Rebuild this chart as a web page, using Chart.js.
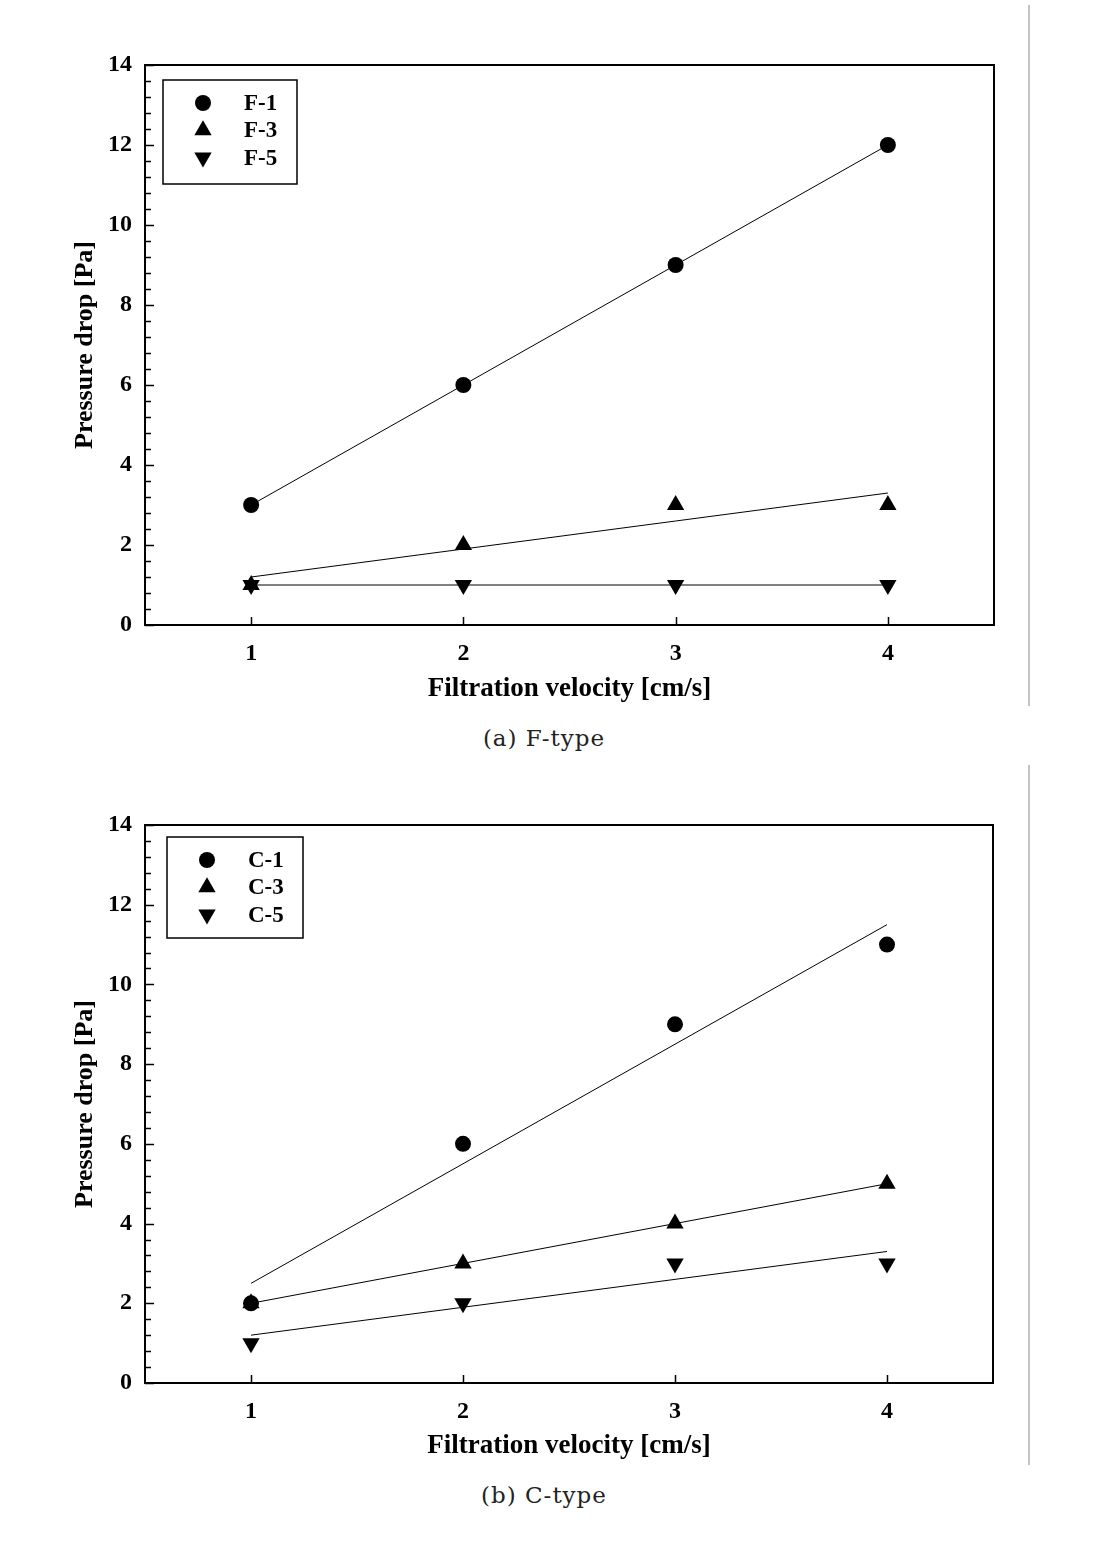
<!DOCTYPE html>
<html>
<head>
<meta charset="utf-8">
<script src="https://cdn.jsdelivr.net/npm/chart.js@4/dist/chart.umd.min.js"></script>
<style>
  body{margin:0;background:#fff;}
  #page{position:relative;width:1102px;height:1548px;overflow:hidden;background:#fff;}
  canvas{position:absolute;left:0;}
  .caption{position:absolute;left:0;width:1088px;text-align:center;font-family:"DejaVu Serif",serif;font-size:23px;letter-spacing:1px;color:#222;line-height:28px;}
  .rule{position:absolute;left:1028px;width:2px;background:#c4c4c4;}
</style>
</head>
<body>
<div id="page">
  <canvas id="chartF" width="1102" height="710" style="top:0px"></canvas>
  <div class="caption" style="top:724px">(a) F-type</div>
  <div class="rule" style="top:5px;height:701px"></div>

  <canvas id="chartC" width="1102" height="710" style="top:763px"></canvas>
  <div class="caption" style="top:1481px">(b) C-type</div>
  <div class="rule" style="top:765px;height:700px"></div>
</div>

<script>
// ---- data ----
const velocity = [1, 2, 3, 4];
const xTicks = [1, 2, 3, 4];
const yTicks = [0, 2, 4, 6, 8, 10, 12, 14];

// (a) F-type
const f1 = [3, 6, 9, 12];
const f3 = [1, 2, 3, 3];
const f5 = [1, 1, 1, 1];
const f1Fit = [3, 6, 9, 12];
const f3Fit = [1.2, 1.9, 2.6, 3.3];
const f5Fit = [1, 1, 1, 1];

// (b) C-type
const c1 = [2, 6, 9, 11];
const c3 = [2, 3, 4, 5];
const c5 = [1, 2, 3, 3];
const c1Fit = [2.5, 5.5, 8.5, 11.5];
const c3Fit = [2, 3, 4, 5];
const c5Fit = [1.2, 1.9, 2.6, 3.3];

const serif = "'Liberation Serif', 'Times New Roman', serif";

function pts(values){
    return velocity.map((v,i)=>({x:v, y:values[i]}));
}

function markerSet(label, values, style, rot, radius){
    return {
        label:label,
        data:pts(values),
        showLine:false,
        pointStyle:style,
        rotation:rot,
        pointRadius:radius,
        pointHoverRadius:radius,
        backgroundColor:"#000",
        borderColor:"#000",
        borderWidth:0
    };
}

function fitSet(values){
    return {
        label:"",
        data:pts(values),
        showLine:true,
        pointRadius:0,
        borderColor:"#000",
        borderWidth:1,
        fill:false
    };
}

// draws a marker shape like Chart.js would
function drawMarker(ctx, style, rot, r, x, y){
    ctx.save();
    ctx.fillStyle="#000";
    ctx.beginPath();
    if(style==="circle"){
        ctx.arc(x, y, r, 0, Math.PI*2);
    }else{
        let a = rot*Math.PI/180;
        ctx.moveTo(x+Math.sin(a)*r, y-Math.cos(a)*r);
        a += Math.PI*2/3;
        ctx.lineTo(x+Math.sin(a)*r, y-Math.cos(a)*r);
        a += Math.PI*2/3;
        ctx.lineTo(x+Math.sin(a)*r, y-Math.cos(a)*r);
    }
    ctx.closePath();
    ctx.fill();
    ctx.restore();
}

//------------------------
// frame, ticks and legend
//------------------------
const framePlugin = {
    id:"frame",
    afterDraw(chart, args, opts){
        const ctx = chart.ctx;
        const a = chart.chartArea;
        const xs = chart.scales.x;
        const ys = chart.scales.y;

        ctx.save();
        ctx.strokeStyle="#000";

        // inward ticks
        ctx.lineWidth=1.5;
        ctx.beginPath();
        for(let v=0; v<=14.001; v+=0.4){
            const py = Math.round(ys.getPixelForValue(v))+0.5;
            const major = Math.abs(v/2-Math.round(v/2))<0.01;
            ctx.moveTo(a.left, py);
            ctx.lineTo(a.left+(major?9:6), py);
        }
        xTicks.forEach(v=>{
            const px = Math.round(xs.getPixelForValue(v))+0.5;
            ctx.moveTo(px, a.bottom);
            ctx.lineTo(px, a.bottom-8);
        });
        ctx.stroke();

        // plot border
        ctx.lineWidth=2;
        ctx.strokeRect(a.left, a.top, a.right-a.left, a.bottom-a.top);

        // legend box
        const lx = a.left+opts.left, ly = a.top+opts.top;
        ctx.lineWidth=1.5;
        ctx.strokeRect(lx, ly, opts.width, opts.height);

        ctx.font="bold 23px "+serif;
        ctx.textBaseline="middle";
        ctx.fillStyle="#000";
        opts.items.forEach((it,i)=>{
            const y = ly+opts.firstRow+i*opts.rowGap;
            drawMarker(ctx, it.style, it.rot, it.r, lx+40, y);
            ctx.fillText(it.label, lx+81, y+1);
        });

        ctx.restore();
    }
};

function makeChart(id, sets, fits, labels, layout){
    const datasets = [
        fitSet(fits[0]), fitSet(fits[1]), fitSet(fits[2]),
        markerSet(labels[0], sets[0], "circle", 0, 8),
        markerSet(labels[1], sets[1], "triangle", 0, 10),
        markerSet(labels[2], sets[2], "triangle", 180, 10)
    ];

    return new Chart(document.getElementById(id),{
        type:"scatter",
        data:{datasets:datasets},
        options:{
            responsive:false,
            animation:false,
            devicePixelRatio:1,
            layout:{
                padding:{left:70, top:layout.top, right:layout.right, bottom:0}
            },
            plugins:{
                legend:{display:false},
                tooltip:{enabled:false},
                frame:{
                    left:layout.legLeft, top:layout.legTop,
                    width:layout.legW, height:layout.legH,
                    firstRow:23, rowGap:27.3,
                    items:[
                        {label:labels[0], style:"circle", rot:0, r:8},
                        {label:labels[1], style:"triangle", rot:0, r:10},
                        {label:labels[2], style:"triangle", rot:180, r:10}
                    ]
                }
            },
            scales:{
                x:{
                    type:"linear",
                    min:0.5,
                    max:4.5,
                    afterBuildTicks:(s)=>{ s.ticks = xTicks.map(v=>({value:v})); },
                    afterFit:(s)=>{ s.height = layout.xHeight; },
                    grid:{display:false},
                    border:{display:false},
                    ticks:{
                        padding:6,
                        color:"#000",
                        font:{family:serif, size:24, weight:"bold"}
                    },
                    title:{
                        display:true,
                        text:"Filtration velocity [cm/s]",
                        color:"#000",
                        padding:{top:0, bottom:layout.xTitlePad},
                        font:{family:serif, size:27, weight:"bold"}
                    }
                },
                y:{
                    type:"linear",
                    min:0,
                    max:14,
                    afterBuildTicks:(s)=>{ s.ticks = yTicks.map(v=>({value:v})); },
                    afterFit:(s)=>{ s.width = 75; },
                    grid:{display:false},
                    border:{display:false},
                    ticks:{
                        padding:5,
                        color:"#000",
                        font:{family:serif, size:24, weight:"bold"}
                    },
                    title:{
                        display:true,
                        text:"Pressure drop [Pa]",
                        color:"#000",
                        padding:{top:0, bottom:0},
                        font:{family:serif, size:26, weight:"bold"}
                    }
                }
            }
        },
        plugins:[framePlugin]
    });
}

makeChart("chartF", [f1,f3,f5], [f1Fit,f3Fit,f5Fit], ["F-1","F-3","F-5"], {
    top:65, right:108, xHeight:85, xTitlePad:5,
    legLeft:18, legTop:15, legW:134, legH:104
});

makeChart("chartC", [c1,c3,c5], [c1Fit,c3Fit,c5Fit], ["C-1","C-3","C-5"], {
    top:62, right:109, xHeight:90, xTitlePad:11,
    legLeft:22, legTop:12, legW:136, legH:101
});
</script>
</body>
</html>
